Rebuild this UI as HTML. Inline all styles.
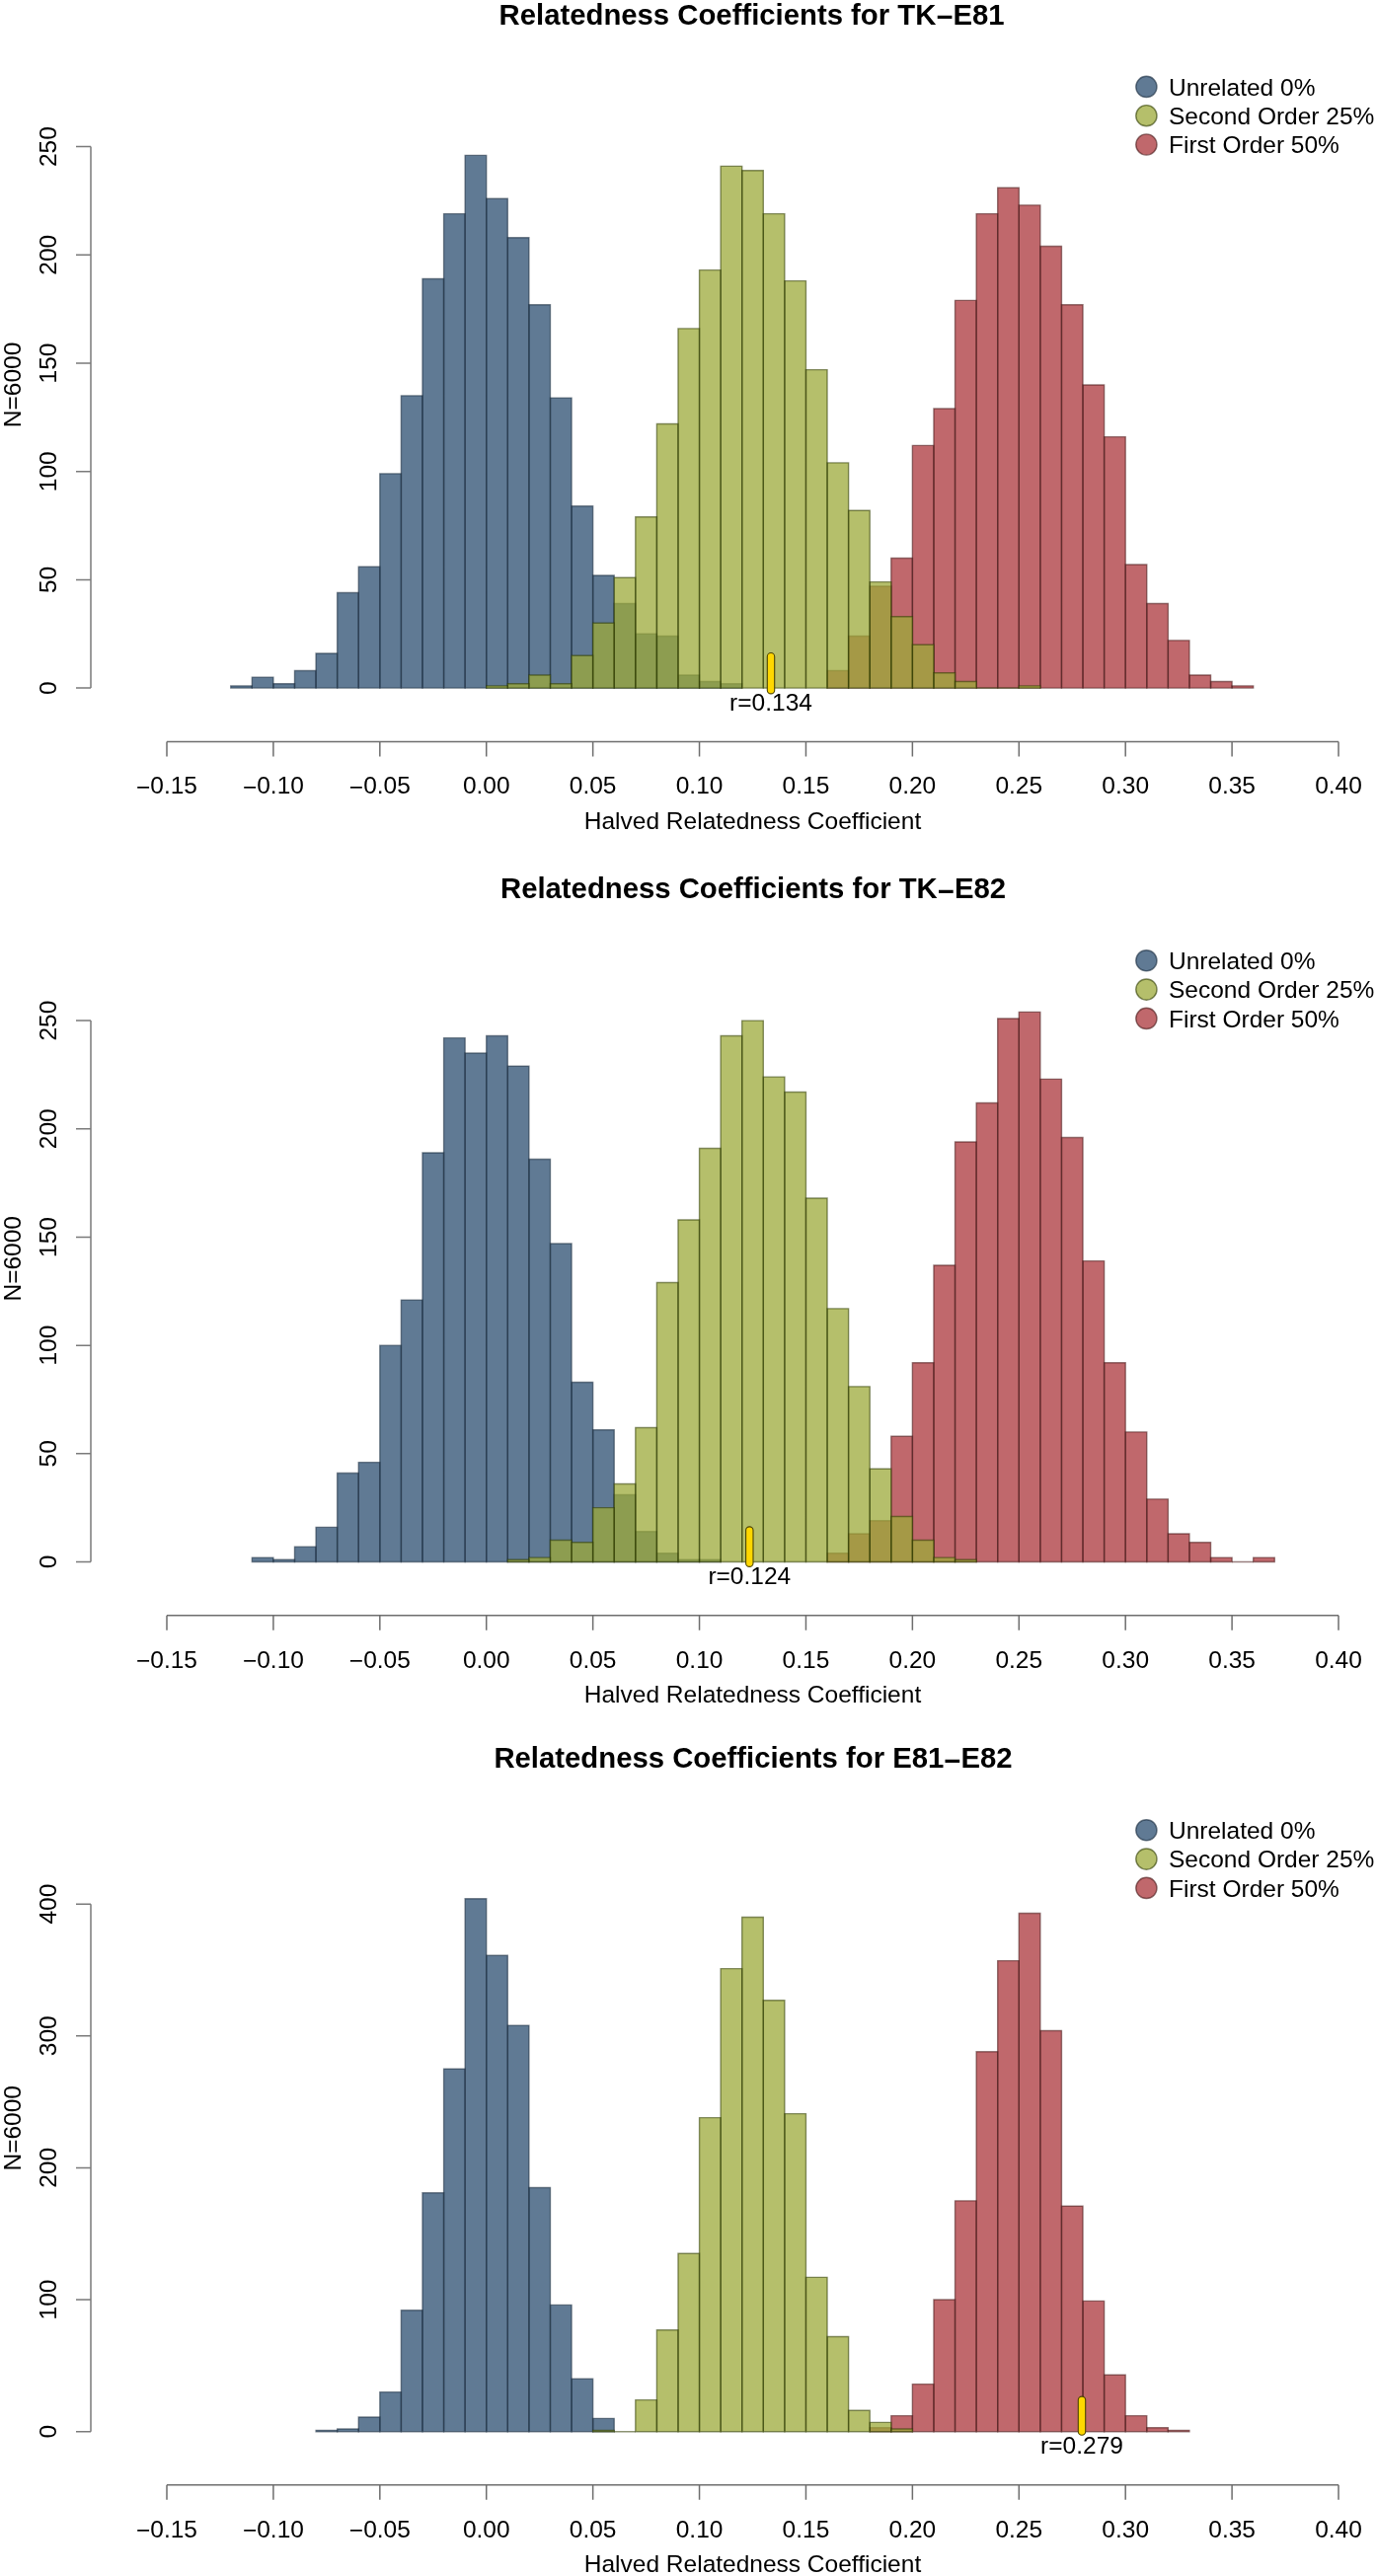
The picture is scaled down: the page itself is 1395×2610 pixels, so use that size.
<!DOCTYPE html>
<html><head><meta charset="utf-8"><title>Relatedness Coefficients</title>
<style>
html,body{margin:0;padding:0;background:#fff;}
body{width:1395px;height:2610px;overflow:hidden;}
svg{display:block;will-change:transform;filter:blur(0.45px);}
.t{font-family:"Liberation Sans", sans-serif;font-size:24.5px;fill:#000;}
.b{font-family:"Liberation Sans", sans-serif;font-size:29.3px;font-weight:bold;fill:#000;}
</style></head><body>
<svg width="1395" height="2610" viewBox="0 0 1395 2610">
<rect width="1395" height="2610" fill="#fff"/>
<g fill="#607a94"><rect x="233.75" y="694.91" width="21.58" height="2.19"/><rect x="255.33" y="686.13" width="21.58" height="10.97"/><rect x="276.91" y="692.71" width="21.58" height="4.39"/><rect x="298.49" y="679.55" width="21.58" height="17.55"/><rect x="320.07" y="662" width="21.58" height="35.1"/><rect x="341.66" y="600.56" width="21.58" height="96.54"/><rect x="363.24" y="574.24" width="21.58" height="122.86"/><rect x="384.82" y="479.89" width="21.58" height="217.21"/><rect x="406.4" y="400.91" width="21.58" height="296.19"/><rect x="427.98" y="282.43" width="21.58" height="414.67"/><rect x="449.57" y="216.61" width="21.58" height="480.49"/><rect x="471.15" y="157.38" width="21.58" height="539.72"/><rect x="492.73" y="201.26" width="21.58" height="495.84"/><rect x="514.31" y="240.75" width="21.58" height="456.35"/><rect x="535.89" y="308.76" width="21.58" height="388.34"/><rect x="557.48" y="403.1" width="21.58" height="294"/><rect x="579.06" y="512.8" width="21.58" height="184.3"/><rect x="600.64" y="583.01" width="21.58" height="114.09"/><rect x="622.22" y="611.53" width="21.58" height="85.57"/><rect x="643.8" y="642.25" width="21.58" height="54.85"/><rect x="665.39" y="644.44" width="21.58" height="52.66"/><rect x="686.97" y="683.94" width="21.58" height="13.16"/><rect x="708.55" y="690.52" width="21.58" height="6.58"/><rect x="730.13" y="692.71" width="21.58" height="4.39"/></g>
<path d="M233.75 697.1V694.91H255.33V697.1ZM276.91 697.1V692.71H298.49V697.1ZM320.07 697.1V662H341.66V697.1ZM363.24 697.1V574.24H384.82V697.1ZM406.4 697.1V400.91H427.98V697.1ZM449.57 697.1V216.61H471.15V697.1ZM492.73 697.1V201.26H514.31V697.1ZM535.89 697.1V308.76H557.48V697.1ZM579.06 697.1V512.8H600.64V697.1ZM622.22 697.1V611.53H643.8V697.1ZM665.39 697.1V644.44H686.97V697.1ZM708.55 697.1V690.52H730.13V697.1Z" fill="none" stroke="#18293c" stroke-opacity="0.55" stroke-width="1.4"/>
<path d="M255.33 697.1V686.13H276.91V697.1ZM298.49 697.1V679.55H320.07V697.1ZM341.66 697.1V600.56H363.24V697.1ZM384.82 697.1V479.89H406.4V697.1ZM427.98 697.1V282.43H449.57V697.1ZM471.15 697.1V157.38H492.73V697.1ZM514.31 697.1V240.75H535.89V697.1ZM557.48 697.1V403.1H579.06V697.1ZM600.64 697.1V583.01H622.22V697.1ZM643.8 697.1V642.25H665.39V697.1ZM686.97 697.1V683.94H708.55V697.1ZM730.13 697.1V692.71H751.71V697.1Z" fill="none" stroke="#18293c" stroke-opacity="0.55" stroke-width="1.4"/>
<g fill="#c0686c"><rect x="838.04" y="679.55" width="21.58" height="17.55"/><rect x="859.62" y="644.44" width="21.58" height="52.66"/><rect x="881.21" y="593.98" width="21.58" height="103.12"/><rect x="902.79" y="565.46" width="21.58" height="131.64"/><rect x="924.37" y="451.37" width="21.58" height="245.73"/><rect x="945.95" y="414.07" width="21.58" height="283.03"/><rect x="967.53" y="304.37" width="21.58" height="392.73"/><rect x="989.12" y="216.61" width="21.58" height="480.49"/><rect x="1010.7" y="190.29" width="21.58" height="506.81"/><rect x="1032.28" y="207.84" width="21.58" height="489.26"/><rect x="1053.86" y="249.52" width="21.58" height="447.58"/><rect x="1075.44" y="308.76" width="21.58" height="388.34"/><rect x="1097.03" y="389.94" width="21.58" height="307.16"/><rect x="1118.61" y="442.6" width="21.58" height="254.5"/><rect x="1140.19" y="572.04" width="21.58" height="125.06"/><rect x="1161.77" y="611.53" width="21.58" height="85.57"/><rect x="1183.35" y="648.83" width="21.58" height="48.27"/><rect x="1204.94" y="683.94" width="21.58" height="13.16"/><rect x="1226.52" y="690.52" width="21.58" height="6.58"/><rect x="1248.1" y="694.91" width="21.58" height="2.19"/></g>
<path d="M838.04 697.1V679.55H859.62V697.1ZM881.21 697.1V593.98H902.79V697.1ZM924.37 697.1V451.37H945.95V697.1ZM967.53 697.1V304.37H989.12V697.1ZM1010.7 697.1V190.29H1032.28V697.1ZM1053.86 697.1V249.52H1075.44V697.1ZM1097.03 697.1V389.94H1118.61V697.1ZM1140.19 697.1V572.04H1161.77V697.1ZM1183.35 697.1V648.83H1204.94V697.1ZM1226.52 697.1V690.52H1248.1V697.1Z" fill="none" stroke="#451516" stroke-opacity="0.55" stroke-width="1.4"/>
<path d="M859.62 697.1V644.44H881.21V697.1ZM902.79 697.1V565.46H924.37V697.1ZM945.95 697.1V414.07H967.53V697.1ZM989.12 697.1V216.61H1010.7V697.1ZM1032.28 697.1V207.84H1053.86V697.1ZM1075.44 697.1V308.76H1097.03V697.1ZM1118.61 697.1V442.6H1140.19V697.1ZM1161.77 697.1V611.53H1183.35V697.1ZM1204.94 697.1V683.94H1226.52V697.1ZM1248.1 697.1V694.91H1269.68V697.1Z" fill="none" stroke="#451516" stroke-opacity="0.55" stroke-width="1.4"/>
<g fill="rgb(156,170,58)" fill-opacity="0.75"><rect x="492.73" y="694.91" width="21.58" height="2.19"/><rect x="514.31" y="692.71" width="21.58" height="4.39"/><rect x="535.89" y="683.94" width="21.58" height="13.16"/><rect x="557.48" y="692.71" width="21.58" height="4.39"/><rect x="579.06" y="664.19" width="21.58" height="32.91"/><rect x="600.64" y="631.28" width="21.58" height="65.82"/><rect x="622.22" y="585.21" width="21.58" height="111.89"/><rect x="643.8" y="523.77" width="21.58" height="173.33"/><rect x="665.39" y="429.43" width="21.58" height="267.67"/><rect x="686.97" y="332.9" width="21.58" height="364.2"/><rect x="708.55" y="273.66" width="21.58" height="423.44"/><rect x="730.13" y="168.35" width="21.58" height="528.75"/><rect x="751.71" y="172.73" width="21.58" height="524.37"/><rect x="773.3" y="216.61" width="21.58" height="480.49"/><rect x="794.88" y="284.63" width="21.58" height="412.47"/><rect x="816.46" y="374.58" width="21.58" height="322.52"/><rect x="838.04" y="468.92" width="21.58" height="228.18"/><rect x="859.62" y="517.19" width="21.58" height="179.91"/><rect x="881.21" y="589.59" width="21.58" height="107.51"/><rect x="902.79" y="624.7" width="21.58" height="72.4"/><rect x="924.37" y="653.22" width="21.58" height="43.88"/><rect x="945.95" y="681.74" width="21.58" height="15.36"/><rect x="967.53" y="690.52" width="21.58" height="6.58"/><rect x="1032.28" y="694.91" width="21.58" height="2.19"/></g>
<path d="M492.73 697.1V694.91H514.31V697.1ZM535.89 697.1V683.94H557.48V697.1ZM579.06 697.1V664.19H600.64V697.1ZM622.22 697.1V585.21H643.8V697.1ZM665.39 697.1V429.43H686.97V697.1ZM708.55 697.1V273.66H730.13V697.1ZM751.71 697.1V172.73H773.3V697.1ZM794.88 697.1V284.63H816.46V697.1ZM838.04 697.1V468.92H859.62V697.1ZM881.21 697.1V589.59H902.79V697.1ZM924.37 697.1V653.22H945.95V697.1ZM967.53 697.1V690.52H989.12V697.1ZM1010.7 697.1V697.1H1032.28V697.1Z" fill="none" stroke="#2d3a00" stroke-opacity="0.55" stroke-width="1.4"/>
<path d="M514.31 697.1V692.71H535.89V697.1ZM557.48 697.1V692.71H579.06V697.1ZM600.64 697.1V631.28H622.22V697.1ZM643.8 697.1V523.77H665.39V697.1ZM686.97 697.1V332.9H708.55V697.1ZM730.13 697.1V168.35H751.71V697.1ZM773.3 697.1V216.61H794.88V697.1ZM816.46 697.1V374.58H838.04V697.1ZM859.62 697.1V517.19H881.21V697.1ZM902.79 697.1V624.7H924.37V697.1ZM945.95 697.1V681.74H967.53V697.1ZM989.12 697.1V697.1H1010.7V697.1ZM1032.28 697.1V694.91H1053.86V697.1Z" fill="none" stroke="#2d3a00" stroke-opacity="0.55" stroke-width="1.4"/>
<rect x="777.3" y="661.5" width="7.4" height="41.4" rx="3.7" fill="#ffd700" stroke="#4d4500" stroke-width="1.1"/>
<text x="781" y="720" text-anchor="middle" class="t">r=0.134</text>
<text x="761.6" y="24.8" text-anchor="middle" class="b">Relatedness Coefficients for TK<tspan dy="2.6">−</tspan><tspan dy="-2.6">E81</tspan></text>
<circle cx="1161.4" cy="87.9" r="10.6" fill="#607a94" stroke="#18293c" stroke-opacity="0.6" stroke-width="1.4"/>
<text x="1184" y="96.5" class="t">Unrelated 0%</text>
<circle cx="1161.4" cy="117.2" r="10.6" fill="rgb(156,170,58)" fill-opacity="0.75" stroke="#2d3a00" stroke-opacity="0.6" stroke-width="1.4"/>
<text x="1184" y="125.8" class="t">Second Order 25%</text>
<circle cx="1161.4" cy="146.5" r="10.6" fill="#c0686c" stroke="#451516" stroke-opacity="0.6" stroke-width="1.4"/>
<text x="1184" y="155.1" class="t">First Order 50%</text>
<path d="M92 148.6V697.1M77 697.1H92M77 587.4H92M77 477.7H92M77 368H92M77 258.3H92M77 148.6H92" fill="none" stroke="#7a7a7a" stroke-width="1.5"/>
<text transform="translate(56.6 697.1) rotate(-90)" text-anchor="middle" class="t">0</text>
<text transform="translate(56.6 587.4) rotate(-90)" text-anchor="middle" class="t">50</text>
<text transform="translate(56.6 477.7) rotate(-90)" text-anchor="middle" class="t">100</text>
<text transform="translate(56.6 368) rotate(-90)" text-anchor="middle" class="t">150</text>
<text transform="translate(56.6 258.3) rotate(-90)" text-anchor="middle" class="t">200</text>
<text transform="translate(56.6 148.6) rotate(-90)" text-anchor="middle" class="t">250</text>
<text transform="translate(21.4 389.9) rotate(-90)" text-anchor="middle" class="t">N=6000</text>
<path d="M169 751.4H1356.01M169 751.4V766.4M276.91 751.4V766.4M384.82 751.4V766.4M492.73 751.4V766.4M600.64 751.4V766.4M708.55 751.4V766.4M816.46 751.4V766.4M924.37 751.4V766.4M1032.28 751.4V766.4M1140.19 751.4V766.4M1248.1 751.4V766.4M1356.01 751.4V766.4" fill="none" stroke="#6e6e6e" stroke-width="1.5"/>
<text x="169" y="804.1" text-anchor="middle" class="t"><tspan dy="1.7">−</tspan><tspan dy="-1.7">0.15</tspan></text>
<text x="276.91" y="804.1" text-anchor="middle" class="t"><tspan dy="1.7">−</tspan><tspan dy="-1.7">0.10</tspan></text>
<text x="384.82" y="804.1" text-anchor="middle" class="t"><tspan dy="1.7">−</tspan><tspan dy="-1.7">0.05</tspan></text>
<text x="492.73" y="804.1" text-anchor="middle" class="t">0.00</text>
<text x="600.64" y="804.1" text-anchor="middle" class="t">0.05</text>
<text x="708.55" y="804.1" text-anchor="middle" class="t">0.10</text>
<text x="816.46" y="804.1" text-anchor="middle" class="t">0.15</text>
<text x="924.37" y="804.1" text-anchor="middle" class="t">0.20</text>
<text x="1032.28" y="804.1" text-anchor="middle" class="t">0.25</text>
<text x="1140.19" y="804.1" text-anchor="middle" class="t">0.30</text>
<text x="1248.1" y="804.1" text-anchor="middle" class="t">0.35</text>
<text x="1356.01" y="804.1" text-anchor="middle" class="t">0.40</text>
<text x="762.5" y="839.6" text-anchor="middle" class="t">Halved Relatedness Coefficient</text>
<g fill="#607a94"><rect x="255.33" y="1578.11" width="21.58" height="4.39"/><rect x="276.91" y="1580.31" width="21.58" height="2.19"/><rect x="298.49" y="1567.15" width="21.58" height="15.35"/><rect x="320.07" y="1547.4" width="21.58" height="35.1"/><rect x="341.66" y="1492.57" width="21.58" height="89.93"/><rect x="363.24" y="1481.6" width="21.58" height="100.9"/><rect x="384.82" y="1363.15" width="21.58" height="219.35"/><rect x="406.4" y="1317.09" width="21.58" height="265.41"/><rect x="427.98" y="1167.93" width="21.58" height="414.57"/><rect x="449.57" y="1051.67" width="21.58" height="530.83"/><rect x="471.15" y="1067.03" width="21.58" height="515.47"/><rect x="492.73" y="1049.48" width="21.58" height="533.02"/><rect x="514.31" y="1080.19" width="21.58" height="502.31"/><rect x="535.89" y="1174.51" width="21.58" height="407.99"/><rect x="557.48" y="1260.06" width="21.58" height="322.44"/><rect x="579.06" y="1400.44" width="21.58" height="182.06"/><rect x="600.64" y="1448.7" width="21.58" height="133.8"/><rect x="622.22" y="1514.5" width="21.58" height="68"/><rect x="643.8" y="1551.79" width="21.58" height="30.71"/><rect x="665.39" y="1573.73" width="21.58" height="8.77"/><rect x="686.97" y="1580.31" width="21.58" height="2.19"/><rect x="708.55" y="1580.31" width="21.58" height="2.19"/></g>
<path d="M255.33 1582.5V1578.11H276.91V1582.5ZM298.49 1582.5V1567.15H320.07V1582.5ZM341.66 1582.5V1492.57H363.24V1582.5ZM384.82 1582.5V1363.15H406.4V1582.5ZM427.98 1582.5V1167.93H449.57V1582.5ZM471.15 1582.5V1067.03H492.73V1582.5ZM514.31 1582.5V1080.19H535.89V1582.5ZM557.48 1582.5V1260.06H579.06V1582.5ZM600.64 1582.5V1448.7H622.22V1582.5ZM643.8 1582.5V1551.79H665.39V1582.5ZM686.97 1582.5V1580.31H708.55V1582.5Z" fill="none" stroke="#18293c" stroke-opacity="0.55" stroke-width="1.4"/>
<path d="M276.91 1582.5V1580.31H298.49V1582.5ZM320.07 1582.5V1547.4H341.66V1582.5ZM363.24 1582.5V1481.6H384.82V1582.5ZM406.4 1582.5V1317.09H427.98V1582.5ZM449.57 1582.5V1051.67H471.15V1582.5ZM492.73 1582.5V1049.48H514.31V1582.5ZM535.89 1582.5V1174.51H557.48V1582.5ZM579.06 1582.5V1400.44H600.64V1582.5ZM622.22 1582.5V1514.5H643.8V1582.5ZM665.39 1582.5V1573.73H686.97V1582.5ZM708.55 1582.5V1580.31H730.13V1582.5Z" fill="none" stroke="#18293c" stroke-opacity="0.55" stroke-width="1.4"/>
<g fill="#c0686c"><rect x="838.04" y="1573.73" width="21.58" height="8.77"/><rect x="859.62" y="1553.98" width="21.58" height="28.52"/><rect x="881.21" y="1540.82" width="21.58" height="41.68"/><rect x="902.79" y="1455.28" width="21.58" height="127.22"/><rect x="924.37" y="1380.7" width="21.58" height="201.8"/><rect x="945.95" y="1281.99" width="21.58" height="300.51"/><rect x="967.53" y="1156.96" width="21.58" height="425.54"/><rect x="989.12" y="1117.48" width="21.58" height="465.02"/><rect x="1010.7" y="1031.93" width="21.58" height="550.57"/><rect x="1032.28" y="1025.35" width="21.58" height="557.15"/><rect x="1053.86" y="1093.35" width="21.58" height="489.15"/><rect x="1075.44" y="1152.57" width="21.58" height="429.93"/><rect x="1097.03" y="1277.6" width="21.58" height="304.9"/><rect x="1118.61" y="1380.7" width="21.58" height="201.8"/><rect x="1140.19" y="1450.89" width="21.58" height="131.61"/><rect x="1161.77" y="1518.89" width="21.58" height="63.61"/><rect x="1183.35" y="1553.98" width="21.58" height="28.52"/><rect x="1204.94" y="1562.76" width="21.58" height="19.74"/><rect x="1226.52" y="1578.11" width="21.58" height="4.39"/><rect x="1269.68" y="1578.11" width="21.58" height="4.39"/></g>
<path d="M838.04 1582.5V1573.73H859.62V1582.5ZM881.21 1582.5V1540.82H902.79V1582.5ZM924.37 1582.5V1380.7H945.95V1582.5ZM967.53 1582.5V1156.96H989.12V1582.5ZM1010.7 1582.5V1031.93H1032.28V1582.5ZM1053.86 1582.5V1093.35H1075.44V1582.5ZM1097.03 1582.5V1277.6H1118.61V1582.5ZM1140.19 1582.5V1450.89H1161.77V1582.5ZM1183.35 1582.5V1553.98H1204.94V1582.5ZM1226.52 1582.5V1578.11H1248.1V1582.5ZM1269.68 1582.5V1578.11H1291.26V1582.5Z" fill="none" stroke="#451516" stroke-opacity="0.55" stroke-width="1.4"/>
<path d="M859.62 1582.5V1553.98H881.21V1582.5ZM902.79 1582.5V1455.28H924.37V1582.5ZM945.95 1582.5V1281.99H967.53V1582.5ZM989.12 1582.5V1117.48H1010.7V1582.5ZM1032.28 1582.5V1025.35H1053.86V1582.5ZM1075.44 1582.5V1152.57H1097.03V1582.5ZM1118.61 1582.5V1380.7H1140.19V1582.5ZM1161.77 1582.5V1518.89H1183.35V1582.5ZM1204.94 1582.5V1562.76H1226.52V1582.5ZM1248.1 1582.5V1582.5H1269.68V1582.5Z" fill="none" stroke="#451516" stroke-opacity="0.55" stroke-width="1.4"/>
<g fill="rgb(156,170,58)" fill-opacity="0.75"><rect x="514.31" y="1580.31" width="21.58" height="2.19"/><rect x="535.89" y="1578.11" width="21.58" height="4.39"/><rect x="557.48" y="1560.57" width="21.58" height="21.93"/><rect x="579.06" y="1562.76" width="21.58" height="19.74"/><rect x="600.64" y="1527.66" width="21.58" height="54.84"/><rect x="622.22" y="1503.53" width="21.58" height="78.97"/><rect x="643.8" y="1446.5" width="21.58" height="136"/><rect x="665.39" y="1299.54" width="21.58" height="282.96"/><rect x="686.97" y="1235.93" width="21.58" height="346.57"/><rect x="708.55" y="1163.54" width="21.58" height="418.96"/><rect x="730.13" y="1049.48" width="21.58" height="533.02"/><rect x="751.71" y="1034.12" width="21.58" height="548.38"/><rect x="773.3" y="1091.16" width="21.58" height="491.34"/><rect x="794.88" y="1106.51" width="21.58" height="475.99"/><rect x="816.46" y="1213.99" width="21.58" height="368.51"/><rect x="838.04" y="1325.86" width="21.58" height="256.64"/><rect x="859.62" y="1404.83" width="21.58" height="177.67"/><rect x="881.21" y="1488.18" width="21.58" height="94.32"/><rect x="902.79" y="1536.44" width="21.58" height="46.06"/><rect x="924.37" y="1560.57" width="21.58" height="21.93"/><rect x="945.95" y="1578.11" width="21.58" height="4.39"/><rect x="967.53" y="1580.31" width="21.58" height="2.19"/></g>
<path d="M514.31 1582.5V1580.31H535.89V1582.5ZM557.48 1582.5V1560.57H579.06V1582.5ZM600.64 1582.5V1527.66H622.22V1582.5ZM643.8 1582.5V1446.5H665.39V1582.5ZM686.97 1582.5V1235.93H708.55V1582.5ZM730.13 1582.5V1049.48H751.71V1582.5ZM773.3 1582.5V1091.16H794.88V1582.5ZM816.46 1582.5V1213.99H838.04V1582.5ZM859.62 1582.5V1404.83H881.21V1582.5ZM902.79 1582.5V1536.44H924.37V1582.5ZM945.95 1582.5V1578.11H967.53V1582.5Z" fill="none" stroke="#2d3a00" stroke-opacity="0.55" stroke-width="1.4"/>
<path d="M535.89 1582.5V1578.11H557.48V1582.5ZM579.06 1582.5V1562.76H600.64V1582.5ZM622.22 1582.5V1503.53H643.8V1582.5ZM665.39 1582.5V1299.54H686.97V1582.5ZM708.55 1582.5V1163.54H730.13V1582.5ZM751.71 1582.5V1034.12H773.3V1582.5ZM794.88 1582.5V1106.51H816.46V1582.5ZM838.04 1582.5V1325.86H859.62V1582.5ZM881.21 1582.5V1488.18H902.79V1582.5ZM924.37 1582.5V1560.57H945.95V1582.5ZM967.53 1582.5V1580.31H989.12V1582.5Z" fill="none" stroke="#2d3a00" stroke-opacity="0.55" stroke-width="1.4"/>
<rect x="755.6" y="1546.9" width="7.4" height="40.5" rx="3.7" fill="#ffd700" stroke="#4d4500" stroke-width="1.1"/>
<text x="759.3" y="1605.4" text-anchor="middle" class="t">r=0.124</text>
<text x="763" y="910.2" text-anchor="middle" class="b">Relatedness Coefficients for TK<tspan dy="2.6">−</tspan><tspan dy="-2.6">E82</tspan></text>
<circle cx="1161.4" cy="973.3" r="10.6" fill="#607a94" stroke="#18293c" stroke-opacity="0.6" stroke-width="1.4"/>
<text x="1184" y="981.9" class="t">Unrelated 0%</text>
<circle cx="1161.4" cy="1002.6" r="10.6" fill="rgb(156,170,58)" fill-opacity="0.75" stroke="#2d3a00" stroke-opacity="0.6" stroke-width="1.4"/>
<text x="1184" y="1011.2" class="t">Second Order 25%</text>
<circle cx="1161.4" cy="1031.9" r="10.6" fill="#c0686c" stroke="#451516" stroke-opacity="0.6" stroke-width="1.4"/>
<text x="1184" y="1040.5" class="t">First Order 50%</text>
<path d="M92 1034.12V1582.5M77 1582.5H92M77 1472.83H92M77 1363.15H92M77 1253.47H92M77 1143.8H92M77 1034.12H92" fill="none" stroke="#7a7a7a" stroke-width="1.5"/>
<text transform="translate(56.6 1582.5) rotate(-90)" text-anchor="middle" class="t">0</text>
<text transform="translate(56.6 1472.83) rotate(-90)" text-anchor="middle" class="t">50</text>
<text transform="translate(56.6 1363.15) rotate(-90)" text-anchor="middle" class="t">100</text>
<text transform="translate(56.6 1253.47) rotate(-90)" text-anchor="middle" class="t">150</text>
<text transform="translate(56.6 1143.8) rotate(-90)" text-anchor="middle" class="t">200</text>
<text transform="translate(56.6 1034.12) rotate(-90)" text-anchor="middle" class="t">250</text>
<text transform="translate(21.4 1275.3) rotate(-90)" text-anchor="middle" class="t">N=6000</text>
<path d="M169 1636.8H1356.01M169 1636.8V1651.8M276.91 1636.8V1651.8M384.82 1636.8V1651.8M492.73 1636.8V1651.8M600.64 1636.8V1651.8M708.55 1636.8V1651.8M816.46 1636.8V1651.8M924.37 1636.8V1651.8M1032.28 1636.8V1651.8M1140.19 1636.8V1651.8M1248.1 1636.8V1651.8M1356.01 1636.8V1651.8" fill="none" stroke="#6e6e6e" stroke-width="1.5"/>
<text x="169" y="1689.5" text-anchor="middle" class="t"><tspan dy="1.7">−</tspan><tspan dy="-1.7">0.15</tspan></text>
<text x="276.91" y="1689.5" text-anchor="middle" class="t"><tspan dy="1.7">−</tspan><tspan dy="-1.7">0.10</tspan></text>
<text x="384.82" y="1689.5" text-anchor="middle" class="t"><tspan dy="1.7">−</tspan><tspan dy="-1.7">0.05</tspan></text>
<text x="492.73" y="1689.5" text-anchor="middle" class="t">0.00</text>
<text x="600.64" y="1689.5" text-anchor="middle" class="t">0.05</text>
<text x="708.55" y="1689.5" text-anchor="middle" class="t">0.10</text>
<text x="816.46" y="1689.5" text-anchor="middle" class="t">0.15</text>
<text x="924.37" y="1689.5" text-anchor="middle" class="t">0.20</text>
<text x="1032.28" y="1689.5" text-anchor="middle" class="t">0.25</text>
<text x="1140.19" y="1689.5" text-anchor="middle" class="t">0.30</text>
<text x="1248.1" y="1689.5" text-anchor="middle" class="t">0.35</text>
<text x="1356.01" y="1689.5" text-anchor="middle" class="t">0.40</text>
<text x="762.5" y="1725" text-anchor="middle" class="t">Halved Relatedness Coefficient</text>
<g fill="#607a94"><rect x="320.07" y="2462.36" width="21.58" height="1.34"/><rect x="341.66" y="2461.03" width="21.58" height="2.67"/><rect x="363.24" y="2449" width="21.58" height="14.7"/><rect x="384.82" y="2423.61" width="21.58" height="40.09"/><rect x="406.4" y="2340.75" width="21.58" height="122.95"/><rect x="427.98" y="2221.81" width="21.58" height="241.89"/><rect x="449.57" y="2096.19" width="21.58" height="367.51"/><rect x="471.15" y="1923.79" width="21.58" height="539.91"/><rect x="492.73" y="1981.26" width="21.58" height="482.44"/><rect x="514.31" y="2052.09" width="21.58" height="411.61"/><rect x="535.89" y="2216.47" width="21.58" height="247.23"/><rect x="557.48" y="2335.41" width="21.58" height="128.29"/><rect x="579.06" y="2410.24" width="21.58" height="53.46"/><rect x="600.64" y="2450.34" width="21.58" height="13.36"/></g>
<path d="M320.07 2463.7V2462.36H341.66V2463.7ZM363.24 2463.7V2449H384.82V2463.7ZM406.4 2463.7V2340.75H427.98V2463.7ZM449.57 2463.7V2096.19H471.15V2463.7ZM492.73 2463.7V1981.26H514.31V2463.7ZM535.89 2463.7V2216.47H557.48V2463.7ZM579.06 2463.7V2410.24H600.64V2463.7Z" fill="none" stroke="#18293c" stroke-opacity="0.55" stroke-width="1.4"/>
<path d="M341.66 2463.7V2461.03H363.24V2463.7ZM384.82 2463.7V2423.61H406.4V2463.7ZM427.98 2463.7V2221.81H449.57V2463.7ZM471.15 2463.7V1923.79H492.73V2463.7ZM514.31 2463.7V2052.09H535.89V2463.7ZM557.48 2463.7V2335.41H579.06V2463.7ZM600.64 2463.7V2450.34H622.22V2463.7Z" fill="none" stroke="#18293c" stroke-opacity="0.55" stroke-width="1.4"/>
<g fill="#c0686c"><rect x="881.21" y="2459.69" width="21.58" height="4.01"/><rect x="902.79" y="2447.66" width="21.58" height="16.04"/><rect x="924.37" y="2415.59" width="21.58" height="48.11"/><rect x="945.95" y="2330.06" width="21.58" height="133.64"/><rect x="967.53" y="2229.83" width="21.58" height="233.87"/><rect x="989.12" y="2078.82" width="21.58" height="384.88"/><rect x="1010.7" y="1986.61" width="21.58" height="477.09"/><rect x="1032.28" y="1938.49" width="21.58" height="525.21"/><rect x="1053.86" y="2057.43" width="21.58" height="406.27"/><rect x="1075.44" y="2235.18" width="21.58" height="228.52"/><rect x="1097.03" y="2331.4" width="21.58" height="132.3"/><rect x="1118.61" y="2406.23" width="21.58" height="57.47"/><rect x="1140.19" y="2447.66" width="21.58" height="16.04"/><rect x="1161.77" y="2459.69" width="21.58" height="4.01"/><rect x="1183.35" y="2462.36" width="21.58" height="1.34"/></g>
<path d="M881.21 2463.7V2459.69H902.79V2463.7ZM924.37 2463.7V2415.59H945.95V2463.7ZM967.53 2463.7V2229.83H989.12V2463.7ZM1010.7 2463.7V1986.61H1032.28V2463.7ZM1053.86 2463.7V2057.43H1075.44V2463.7ZM1097.03 2463.7V2331.4H1118.61V2463.7ZM1140.19 2463.7V2447.66H1161.77V2463.7ZM1183.35 2463.7V2462.36H1204.94V2463.7Z" fill="none" stroke="#451516" stroke-opacity="0.55" stroke-width="1.4"/>
<path d="M902.79 2463.7V2447.66H924.37V2463.7ZM945.95 2463.7V2330.06H967.53V2463.7ZM989.12 2463.7V2078.82H1010.7V2463.7ZM1032.28 2463.7V1938.49H1053.86V2463.7ZM1075.44 2463.7V2235.18H1097.03V2463.7ZM1118.61 2463.7V2406.23H1140.19V2463.7ZM1161.77 2463.7V2459.69H1183.35V2463.7Z" fill="none" stroke="#451516" stroke-opacity="0.55" stroke-width="1.4"/>
<g fill="rgb(156,170,58)" fill-opacity="0.75"><rect x="600.64" y="2462.36" width="21.58" height="1.34"/><rect x="643.8" y="2431.63" width="21.58" height="32.07"/><rect x="665.39" y="2360.8" width="21.58" height="102.9"/><rect x="686.97" y="2283.29" width="21.58" height="180.41"/><rect x="708.55" y="2145.64" width="21.58" height="318.06"/><rect x="730.13" y="1994.62" width="21.58" height="469.08"/><rect x="751.71" y="1942.5" width="21.58" height="521.2"/><rect x="773.3" y="2026.7" width="21.58" height="437"/><rect x="794.88" y="2141.63" width="21.58" height="322.07"/><rect x="816.46" y="2307.34" width="21.58" height="156.36"/><rect x="838.04" y="2367.48" width="21.58" height="96.22"/><rect x="859.62" y="2442.32" width="21.58" height="21.38"/><rect x="881.21" y="2454.35" width="21.58" height="9.35"/><rect x="902.79" y="2461.03" width="21.58" height="2.67"/></g>
<path d="M600.64 2463.7V2462.36H622.22V2463.7ZM643.8 2463.7V2431.63H665.39V2463.7ZM686.97 2463.7V2283.29H708.55V2463.7ZM730.13 2463.7V1994.62H751.71V2463.7ZM773.3 2463.7V2026.7H794.88V2463.7ZM816.46 2463.7V2307.34H838.04V2463.7ZM859.62 2463.7V2442.32H881.21V2463.7ZM902.79 2463.7V2461.03H924.37V2463.7Z" fill="none" stroke="#2d3a00" stroke-opacity="0.55" stroke-width="1.4"/>
<path d="M622.22 2463.7V2463.7H643.8V2463.7ZM665.39 2463.7V2360.8H686.97V2463.7ZM708.55 2463.7V2145.64H730.13V2463.7ZM751.71 2463.7V1942.5H773.3V2463.7ZM794.88 2463.7V2141.63H816.46V2463.7ZM838.04 2463.7V2367.48H859.62V2463.7ZM881.21 2463.7V2454.35H902.79V2463.7Z" fill="none" stroke="#2d3a00" stroke-opacity="0.55" stroke-width="1.4"/>
<rect x="1092.3" y="2428.1" width="7.4" height="39.2" rx="3.7" fill="#ffd700" stroke="#4d4500" stroke-width="1.1"/>
<text x="1096" y="2486.4" text-anchor="middle" class="t">r=0.279</text>
<text x="763" y="1791.2" text-anchor="middle" class="b">Relatedness Coefficients for E81<tspan dy="2.6">−</tspan><tspan dy="-2.6">E82</tspan></text>
<circle cx="1161.4" cy="1854.3" r="10.6" fill="#607a94" stroke="#18293c" stroke-opacity="0.6" stroke-width="1.4"/>
<text x="1184" y="1862.9" class="t">Unrelated 0%</text>
<circle cx="1161.4" cy="1883.6" r="10.6" fill="rgb(156,170,58)" fill-opacity="0.75" stroke="#2d3a00" stroke-opacity="0.6" stroke-width="1.4"/>
<text x="1184" y="1892.2" class="t">Second Order 25%</text>
<circle cx="1161.4" cy="1912.9" r="10.6" fill="#c0686c" stroke="#451516" stroke-opacity="0.6" stroke-width="1.4"/>
<text x="1184" y="1921.5" class="t">First Order 50%</text>
<path d="M92 1929.14V2463.7M77 2463.7H92M77 2330.06H92M77 2196.42H92M77 2062.78H92M77 1929.14H92" fill="none" stroke="#7a7a7a" stroke-width="1.5"/>
<text transform="translate(56.6 2463.7) rotate(-90)" text-anchor="middle" class="t">0</text>
<text transform="translate(56.6 2330.06) rotate(-90)" text-anchor="middle" class="t">100</text>
<text transform="translate(56.6 2196.42) rotate(-90)" text-anchor="middle" class="t">200</text>
<text transform="translate(56.6 2062.78) rotate(-90)" text-anchor="middle" class="t">300</text>
<text transform="translate(56.6 1929.14) rotate(-90)" text-anchor="middle" class="t">400</text>
<text transform="translate(21.4 2156.3) rotate(-90)" text-anchor="middle" class="t">N=6000</text>
<path d="M169 2517.8H1356.01M169 2517.8V2532.8M276.91 2517.8V2532.8M384.82 2517.8V2532.8M492.73 2517.8V2532.8M600.64 2517.8V2532.8M708.55 2517.8V2532.8M816.46 2517.8V2532.8M924.37 2517.8V2532.8M1032.28 2517.8V2532.8M1140.19 2517.8V2532.8M1248.1 2517.8V2532.8M1356.01 2517.8V2532.8" fill="none" stroke="#6e6e6e" stroke-width="1.5"/>
<text x="169" y="2570.5" text-anchor="middle" class="t"><tspan dy="1.7">−</tspan><tspan dy="-1.7">0.15</tspan></text>
<text x="276.91" y="2570.5" text-anchor="middle" class="t"><tspan dy="1.7">−</tspan><tspan dy="-1.7">0.10</tspan></text>
<text x="384.82" y="2570.5" text-anchor="middle" class="t"><tspan dy="1.7">−</tspan><tspan dy="-1.7">0.05</tspan></text>
<text x="492.73" y="2570.5" text-anchor="middle" class="t">0.00</text>
<text x="600.64" y="2570.5" text-anchor="middle" class="t">0.05</text>
<text x="708.55" y="2570.5" text-anchor="middle" class="t">0.10</text>
<text x="816.46" y="2570.5" text-anchor="middle" class="t">0.15</text>
<text x="924.37" y="2570.5" text-anchor="middle" class="t">0.20</text>
<text x="1032.28" y="2570.5" text-anchor="middle" class="t">0.25</text>
<text x="1140.19" y="2570.5" text-anchor="middle" class="t">0.30</text>
<text x="1248.1" y="2570.5" text-anchor="middle" class="t">0.35</text>
<text x="1356.01" y="2570.5" text-anchor="middle" class="t">0.40</text>
<text x="762.5" y="2606" text-anchor="middle" class="t">Halved Relatedness Coefficient</text>
</svg>
</body></html>
